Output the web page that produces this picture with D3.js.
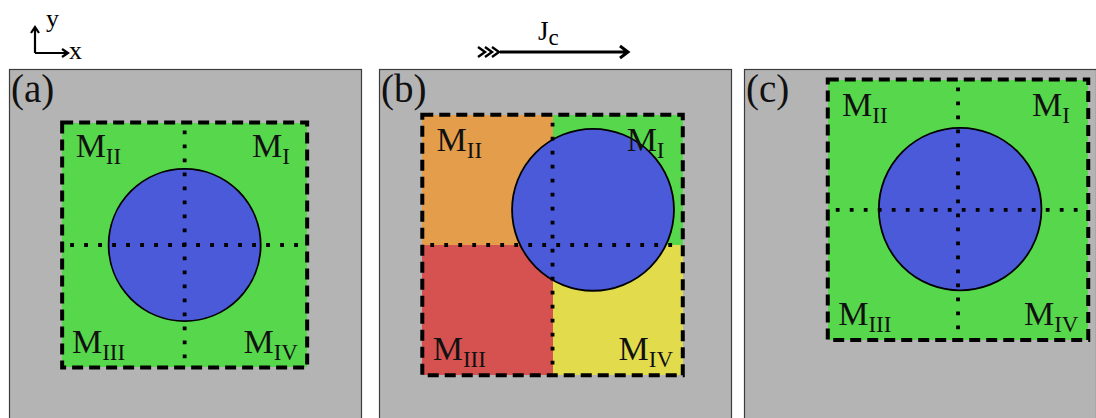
<!DOCTYPE html>
<html>
<head>
<meta charset="utf-8">
<script src="https://cdn.jsdelivr.net/npm/d3@7"></script>
<style>
  html, body { margin: 0; padding: 0; background: #fff; }
  svg { display: block; }
</style>
</head>
<body>
<svg id="fig" width="1096" height="418"></svg>
<script>
// Panel tags and quadrant names
const panelTags = ["(a)", "(b)", "(c)"];
const quadrantNames = ["I", "II", "III", "IV"];

// Square region (center x, center y, half size) in panel units (0..100)
const squareCx = [49.9, 49.3, 60.8];
const squareCy = [50.0, 50.0, 40.0];
const squareHalf = [34.8, 37.0, 37.0];

// Circular disc (center x, center y, radius) in panel units
const discCx = [49.9, 60.8, 61.4];
const discCy = [50.0, 40.0, 39.8];
const discR = [21.6, 23.0, 23.1];

// Quadrant fill colours per panel, ordered I, II, III, IV
const quadColors = [
  ["#57d74c", "#57d74c", "#57d74c", "#57d74c"],
  ["#57d74c", "#e49e4b", "#d65250", "#e2dc4c"],
  ["#57d74c", "#57d74c", "#57d74c", "#57d74c"]
];

// Left edge of each panel frame (px)
const panelLeft = [9, 379, 744];

const FONT = "Liberation Serif";
const svg = d3.select("#fig");
const panelSize = 352;
const panelTop = 69;

const y = d3.scaleLinear().domain([0, 100]).range([panelTop, panelTop + panelSize]);

// serif text helper
const serif = sel => sel.attr("font-family", FONT).style("font-family", `"${FONT}"`);

panelTags.forEach((tag, i) => {
  const x = d3.scaleLinear().domain([0, 100]).range([panelLeft[i], panelLeft[i] + panelSize]);
  const len = d => x(d) - x(0);
  const g = svg.append("g");

  // grey frame
  g.append("rect")
    .attr("x", x(0) + 0.5).attr("y", y(0) + 0.5)
    .attr("width", panelSize).attr("height", panelSize)
    .attr("fill", "#b4b4b4").attr("stroke", "#3c3c3c").attr("stroke-width", 1.2);

  const cx = x(squareCx[i]), cy = y(squareCy[i]), h = len(squareHalf[i]);

  // quadrants: I top-right, II top-left, III bottom-left, IV bottom-right
  const quads = [
    [cx, cy - h], [cx - h, cy - h], [cx - h, cy], [cx, cy]
  ];
  g.selectAll("rect.q").data(quads).join("rect")
    .attr("class", "q")
    .attr("x", d => d[0]).attr("y", d => d[1])
    .attr("width", h).attr("height", h)
    .attr("fill", (d, k) => quadColors[i][k])
    .attr("shape-rendering", "crispEdges");

  // disc
  g.append("circle")
    .attr("cx", x(discCx[i])).attr("cy", y(discCy[i])).attr("r", len(discR[i]))
    .attr("fill", "#4a5ad9").attr("stroke", "#000").attr("stroke-width", 1.8);

  // dotted quadrant dividers
  const dot = { "stroke": "#000", "stroke-width": 3.8, "stroke-dasharray": "3.8 10.2" };
  const vl = g.append("line").attr("x1", cx).attr("x2", cx).attr("y1", cy - h + 8).attr("y2", cy + h - 4);
  const hl = g.append("line").attr("y1", cy).attr("y2", cy).attr("x1", cx - h + 8).attr("x2", cx + h - 4);
  [vl, hl].forEach(l => Object.entries(dot).forEach(([k, v]) => l.attr(k, v)));

  // dashed square outline
  g.append("rect")
    .attr("x", cx - h).attr("y", cy - h).attr("width", 2 * h).attr("height", 2 * h)
    .attr("fill", "none").attr("stroke", "#000").attr("stroke-width", 4)
    .attr("stroke-dasharray", "11 6").attr("stroke-linecap", "butt");

  // quadrant labels
  const labelPos = [
    { x: cx + h - 0.14 * h, y: cy - h + 0.28 * h, anchor: "end" },
    { x: cx - h + 0.11 * h, y: cy - h + 0.28 * h, anchor: "start" },
    { x: cx - h + 0.08 * h, y: cy + h - 0.115 * h, anchor: "start" },
    { x: cx + h - 0.075 * h, y: cy + h - 0.115 * h, anchor: "end" }
  ];
  quadrantNames.forEach((nm, k) => {
    const t = g.append("text")
      .attr("x", labelPos[k].x).attr("y", labelPos[k].y)
      .attr("text-anchor", labelPos[k].anchor)
      .attr("font-size", 34).attr("fill", "#111")
      .call(serif);
    t.append("tspan").text("M");
    t.append("tspan").attr("font-size", 23).attr("dy", 7).text(nm);
  });

  // panel tag
  g.append("text")
    .attr("x", x(0) + 2).attr("y", y(0) + 33)
    .attr("font-size", 39).attr("fill", "#111")
    .call(serif)
    .text(tag);
});

// coordinate axes glyph
const ax = svg.append("g").attr("stroke", "#000").attr("stroke-width", 2.2).attr("fill", "none");
ax.append("path").attr("d", "M35,53 L35,28 M31,33 L35,27 L39,33");
ax.append("path").attr("d", "M35,53 L67,53 M62,49 L68,53 L62,57");
svg.append("text").attr("x", 46).attr("y", 27).attr("font-size", 26).call(serif).text("y");
svg.append("text").attr("x", 69).attr("y", 59).attr("font-size", 26).call(serif).text("x");

// current direction arrow
const ar = svg.append("g").attr("stroke", "#000").attr("fill", "none");
ar.append("path").attr("stroke-width", 3).attr("d", "M500,52 L628,52 M620,46 L628,52 L620,58");
[478, 485, 492].forEach(x0 => {
  ar.append("path").attr("stroke-width", 2.4).attr("d", `M${x0},47 L${x0 + 7},52 L${x0},57`);
});
const jt = svg.append("text").attr("x", 538).attr("y", 40).attr("font-size", 27).call(serif);
jt.append("tspan").text("J");
jt.append("tspan").attr("font-size", 23).attr("dy", 5).text("c");
</script>
</body>
</html>
